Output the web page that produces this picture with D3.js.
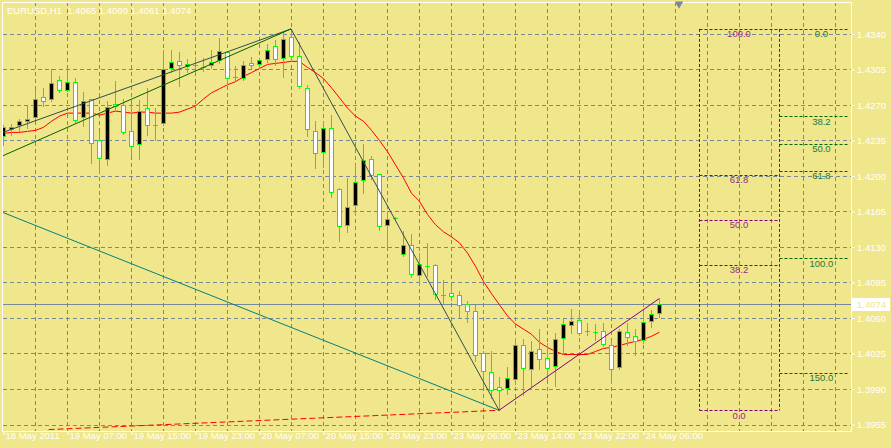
<!DOCTYPE html>
<html><head><meta charset="utf-8">
<script src="https://cdn.jsdelivr.net/npm/d3@7"></script>
<style>html,body{margin:0;padding:0;background:#F0E68C;overflow:hidden}svg{display:block}</style>
</head><body>
<svg id="c" width="891" height="448"></svg>
<script>
// ---------- data ----------
const symbolTitle = "EURUSD,H1";
const open  = [1.4239,1.4246,1.4250,1.4254,1.4258,1.4278,1.4276,1.4295,1.4285,1.4293,1.4258,1.4276,1.4235,1.4217,1.4271,1.4270,1.4244,1.4232,1.4267,1.4250,1.4252,1.4306,1.4313,1.4308,1.4309,1.4307,1.4309,1.4314,1.4322,1.4298,1.4297,1.4311,1.4310,1.4315,1.4328,1.4316,1.4337,1.4318,1.4287,1.4244,1.4224,1.4247,1.4187,1.4152,1.4171,1.4196,1.4217,1.4202,1.4152,1.4159,1.4123,1.4132,1.4102,1.4111,1.4112,1.4083,1.4085,1.4083,1.4074,1.4067,1.4025,1.4007,1.3992,1.3991,1.4000,1.4033,1.4010,1.4029,1.4021,1.4013,1.4040,1.4053,1.4058,1.4047,1.4046,1.4047,1.4033,1.4012,1.4046,1.4042,1.4038,1.4057,1.4065];
const high  = [1.4250,1.4251,1.4256,1.4269,1.4285,1.4287,1.4305,1.4299,1.4305,1.4297,1.4283,1.4276,1.4243,1.4274,1.4294,1.4276,1.4271,1.4275,1.4287,1.4267,1.4324,1.4324,1.4322,1.4315,1.4317,1.4316,1.4324,1.4336,1.4323,1.4308,1.4313,1.4317,1.4316,1.4330,1.4334,1.4342,1.4345,1.4332,1.4290,1.4254,1.4254,1.4260,1.4188,1.4198,1.4212,1.4232,1.4220,1.4202,1.4165,1.4160,1.4146,1.4143,1.4124,1.4134,1.4113,1.4097,1.4092,1.4087,1.4077,1.4073,1.4027,1.4027,1.4002,1.4012,1.4040,1.4039,1.4037,1.4049,1.4035,1.4045,1.4059,1.4069,1.4067,1.4055,1.4054,1.4055,1.4038,1.4049,1.4055,1.4049,1.4067,1.4068,1.4080];
const low   = [1.4231,1.4240,1.4244,1.4247,1.4255,1.4269,1.4274,1.4283,1.4284,1.4253,1.4249,1.4213,1.4204,1.4211,1.4265,1.4241,1.4221,1.4217,1.4240,1.4235,1.4250,1.4303,1.4289,1.4303,1.4303,1.4304,1.4306,1.4311,1.4291,1.4295,1.4295,1.4306,1.4306,1.4312,1.4309,1.4298,1.4313,1.4287,1.4239,1.4208,1.4209,1.4179,1.4136,1.4145,1.4162,1.4183,1.4197,1.4147,1.4130,1.4158,1.4121,1.4100,1.4094,1.4101,1.4079,1.4075,1.4078,1.4061,1.4056,1.4018,1.3992,1.3981,1.3969,1.3985,1.3995,1.3984,1.3993,1.4010,1.4000,1.3993,1.4025,1.4045,1.4043,1.4043,1.4038,1.4032,1.3997,1.4010,1.4033,1.4024,1.4035,1.4051,1.4061];
const close = [1.4248,1.4248,1.4254,1.4256,1.4276,1.4274,1.4292,1.4285,1.4293,1.4255,1.4274,1.4233,1.4218,1.4268,1.4269,1.4243,1.4230,1.4264,1.4250,1.4250,1.4305,1.4312,1.4309,1.4310,1.4309,1.4307,1.4312,1.4323,1.4297,1.4298,1.4309,1.4309,1.4314,1.4324,1.4315,1.4335,1.4318,1.4289,1.4246,1.4223,1.4247,1.4184,1.4151,1.4169,1.4194,1.4216,1.4201,1.4151,1.4158,1.4159,1.4132,1.4103,1.4113,1.4111,1.4084,1.4083,1.4082,1.4073,1.4067,1.4024,1.4008,1.3989,1.3989,1.4001,1.4033,1.4011,1.4027,1.4020,1.4011,1.4039,1.4054,1.4057,1.4045,1.4047,1.4046,1.4034,1.4010,1.4047,1.4041,1.4037,1.4056,1.4064,1.4074];
const movingAvg = [1.4242,1.4243,1.4243,1.4244,1.4245,1.4248,1.4254,1.4259,1.4262,1.4262,1.4262,1.4262,1.4260,1.4262,1.4264,1.4263,1.4262,1.4263,1.4263,1.4262,1.4262,1.4262,1.4263,1.4266,1.4269,1.4276,1.4282,1.4286,1.4290,1.4293,1.4298,1.4302,1.4306,1.4310,1.4311,1.4312,1.4313,1.4313,1.4307,1.4302,1.4296,1.4287,1.4277,1.4267,1.4259,1.4254,1.4245,1.4235,1.4224,1.4211,1.4198,1.4183,1.4175,1.4162,1.4152,1.4145,1.4140,1.4134,1.4124,1.4111,1.4096,1.4084,1.4073,1.4062,1.4054,1.4049,1.4044,1.4036,1.4031,1.4027,1.4024,1.4024,1.4024,1.4024,1.4027,1.4030,1.4031,1.4033,1.4035,1.4037,1.4039,1.4042,1.4046];
const timeTickBars = [0,8,16,24,32,40,48,56,64,72,80];
const timeLabels = ["18 May 2011","19 May 07:00","19 May 15:00","19 May 23:00","20 May 07:00","20 May 15:00","20 May 23:00","23 May 06:00","23 May 14:00","23 May 22:00","24 May 06:00"];
const priceTicks = [1.4340,1.4305,1.4270,1.4235,1.4200,1.4165,1.4130,1.4095,1.4060,1.4025,1.3990,1.3955];
const bidPrice = 1.4074;
// trend line anchors: [barIndex, price]
const grayUpLine   = [[0,1.4243],[36,1.4345]];
const greenUpLine  = [[0,1.4220],[36,1.4345]];
const swingDownLine= [[36,1.4345],[62,1.3969]];
const tealLine     = [[0,1.4164],[62,1.3969]];
const redDashLine  = [[5.7,1.3950],[62,1.3969]];
const purpleLine   = [[62,1.3969],[82,1.4079]];
// fibonacci objects
const fibA = {from:87, to:97, p100:1.4345, p0:1.3969};
const fibALevels = [100,61.8,50,38.2,0];
const fibB = {from:97, to:105.6, p0:1.4345, p100:1.4119};
const fibBLevels = [0,38.2,50,61.8,100,150];

// ---------- drawing ----------
const W=891,H=448, L=3, R=851, T=2, B=431;
const svg=d3.select("#c");
const x=d3.scaleLinear().domain([0,106]).range([L,R]);
const y=d3.scaleLinear().domain([1.4340,1.3955]).range([34,424.5]);
const FONT="'Liberation Sans', Arial, sans-serif";
const GRID="#778899";

svg.append("rect").attr("width",W).attr("height",H).attr("fill","#F0E68C");
svg.append("defs").append("clipPath").attr("id","clip").append("rect")
  .attr("x",L).attr("y",T).attr("width",R-L).attr("height",B-T);
const plot=svg.append("g").attr("clip-path","url(#clip)");

// grid
const vGrid=d3.range(4,106,4);
plot.append("g").selectAll("line").data(vGrid).join("line")
  .attr("x1",d=>Math.round(x(d))+0.5).attr("x2",d=>Math.round(x(d))+0.5)
  .attr("y1",T).attr("y2",B).attr("stroke",GRID).attr("stroke-dasharray","4,3");
plot.append("g").selectAll("line").data(priceTicks).join("line")
  .attr("y1",d=>Math.round(y(d))+0.5).attr("y2",d=>Math.round(y(d))+0.5)
  .attr("x1",L).attr("x2",R).attr("stroke",GRID).attr("stroke-dasharray","4,3");

// bid line
plot.append("line").attr("x1",L).attr("x2",R)
  .attr("y1",Math.round(y(bidPrice))+0.5).attr("y2",Math.round(y(bidPrice))+0.5)
  .attr("stroke",GRID).attr("stroke-width",1);

// trend lines
const seg=(pts,color,dash)=>plot.append("line")
  .attr("x1",x(pts[0][0])).attr("y1",y(pts[0][1]))
  .attr("x2",x(pts[1][0])).attr("y2",y(pts[1][1]))
  .attr("stroke",color).attr("stroke-width",1).attr("stroke-dasharray",dash||null);
seg(tealLine,"#008080");
seg(redDashLine,"#FF0000","6,3");

// fib A (purple)
const fA=plot.append("g");
const fibApx=l=>fibA.p0+(fibA.p100-fibA.p0)*l/100;
fA.selectAll("line.h").data(fibALevels).join("line")
  .attr("x1",x(fibA.from)+0.5).attr("x2",x(fibA.to)+0.5)
  .attr("y1",d=>Math.round(y(fibApx(d)))+0.5).attr("y2",d=>Math.round(y(fibApx(d)))+0.5)
  .attr("stroke","#800080").attr("stroke-dasharray","3,2");
fA.append("line").attr("x1",x(fibA.from)+0.5).attr("x2",x(fibA.from)+0.5)
  .attr("y1",y(fibA.p100)).attr("y2",y(fibA.p0)).attr("stroke","#800080").attr("stroke-dasharray","3,2");
fA.selectAll("text").data(fibALevels).join("text")
  .attr("x",x((fibA.from+fibA.to)/2)).attr("y",d=>y(fibApx(d))+8.5)
  .attr("text-anchor","middle").attr("font-family",FONT).attr("font-size","9.5px")
  .attr("fill","#9a2a8a").text(d=>d.toFixed(1));

// fib B (green)
const fB=plot.append("g");
const fibBpx=l=>fibB.p0+(fibB.p100-fibB.p0)*l/100;
fB.selectAll("line.h").data(fibBLevels).join("line")
  .attr("x1",x(fibB.from)+0.5).attr("x2",x(fibB.to))
  .attr("y1",d=>Math.round(y(fibBpx(d)))+0.5).attr("y2",d=>Math.round(y(fibBpx(d)))+0.5)
  .attr("stroke","#006400").attr("stroke-dasharray","3,2");
fB.append("line").attr("x1",x(fibB.from)+0.5).attr("x2",x(fibB.from)+0.5)
  .attr("y1",y(fibB.p0)).attr("y2",y(fibA.p0)).attr("stroke","#006400").attr("stroke-dasharray","3,2");
fB.selectAll("text").data(fibBLevels).join("text")
  .attr("x",x(fibB.from+5.3)).attr("y",d=>y(fibBpx(d))+8.5)
  .attr("text-anchor","middle").attr("font-family",FONT).attr("font-size","9.5px")
  .attr("fill","#22783a").text(d=>d.toFixed(1));

// moving average
plot.append("path").datum(movingAvg)
  .attr("d",d3.line().x((d,i)=>x(i)+0.5).y(d=>y(d)))
  .attr("fill","none").attr("stroke","#FF0000").attr("stroke-width",1);

// candles
const bars=d3.range(open.length);
const cg=plot.append("g").attr("shape-rendering","crispEdges");
cg.selectAll("line.w").data(bars).join("line")
  .attr("x1",i=>Math.round(x(i))+0.5).attr("x2",i=>Math.round(x(i))+0.5)
  .attr("y1",i=>Math.round(y(high[i]))).attr("y2",i=>Math.round(y(low[i]))+1)
  .attr("stroke","#00FF00");
cg.selectAll("rect").data(bars.filter(i=>open[i]!==close[i])).join("rect")
  .attr("x",i=>Math.round(x(i))-2+0.5).attr("width",4)
  .attr("y",i=>Math.round(y(Math.max(open[i],close[i])))+0.5)
  .attr("height",i=>Math.max(1,Math.round(y(Math.min(open[i],close[i])))-Math.round(y(Math.max(open[i],close[i])))))
  .attr("fill",i=>close[i]>open[i]?"#000000":"#FFFFFF").attr("stroke","#00FF00");
cg.selectAll("line.d").data(bars.filter(i=>open[i]===close[i])).join("line")
  .attr("x1",i=>Math.round(x(i))-2).attr("x2",i=>Math.round(x(i))+3)
  .attr("y1",i=>Math.round(y(close[i]))+0.5).attr("y2",i=>Math.round(y(close[i]))+0.5)
  .attr("stroke","#00FF00");

// trend lines over candles
seg(grayUpLine,"#2F4F4F");
seg(greenUpLine,"#006400");
seg(swingDownLine,"#2F4F4F");
seg(purpleLine,"#800080");

// frame
svg.append("path").attr("d",`M${L-0.5},${B+0.5}V${T+0.5}H${R+0.5}V${B+0.5}H${L-0.5}`)
  .attr("fill","none").attr("stroke","#FFFFFF");

// price axis
const ya=svg.append("g").attr("transform",`translate(${R},0)`)
  .call(d3.axisRight(y).tickValues(priceTicks).tickFormat(d3.format(".4f")).tickSize(4).tickPadding(2));
ya.select(".domain").remove();
ya.selectAll("line").attr("stroke","#FFFFFF");
ya.selectAll("text").attr("fill","#FFFFFF").attr("font-family",FONT).attr("font-size","9.5px");

// bid label
const by=Math.round(y(bidPrice));
svg.append("rect").attr("x",R+1).attr("y",by-6).attr("width",38).attr("height",13).attr("fill","#FFFFFF");
svg.append("text").attr("x",R+6).attr("y",by+3.5).attr("font-family",FONT).attr("font-size","9.5px")
  .attr("fill","#F0E68C").text(d3.format(".4f")(bidPrice));

// time axis
const xa=svg.append("g").attr("transform",`translate(0,${B})`)
  .call(d3.axisBottom(x).tickValues(timeTickBars).tickFormat((d,i)=>timeLabels[i]).tickSize(4).tickPadding(2));
xa.select(".domain").remove();
xa.selectAll("line").attr("stroke","#FFFFFF").attr("transform","translate(0.5,0)");
xa.selectAll("text").attr("fill","#FFFFFF").attr("font-family",FONT).attr("font-size","9.5px")
  .attr("text-anchor","start").attr("dx","2px").attr("dy","0.2em");

// shift marker
svg.append("path").attr("d",d3.symbol().type(d3.symbolTriangle).size(30)())
  .attr("transform",`translate(${x(84.5)},4) rotate(180)`).attr("fill","#778899");

// title
svg.append("text").attr("x",7).attr("y",14).attr("font-family",FONT).attr("font-size","9.5px")
  .attr("fill","#FFFFFF").style("white-space","pre")
  .text(`${symbolTitle}  ${open[82].toFixed(4)} ${high[82].toFixed(4)} ${low[82].toFixed(4)} ${close[82].toFixed(4)}`);
</script>
</body></html>
